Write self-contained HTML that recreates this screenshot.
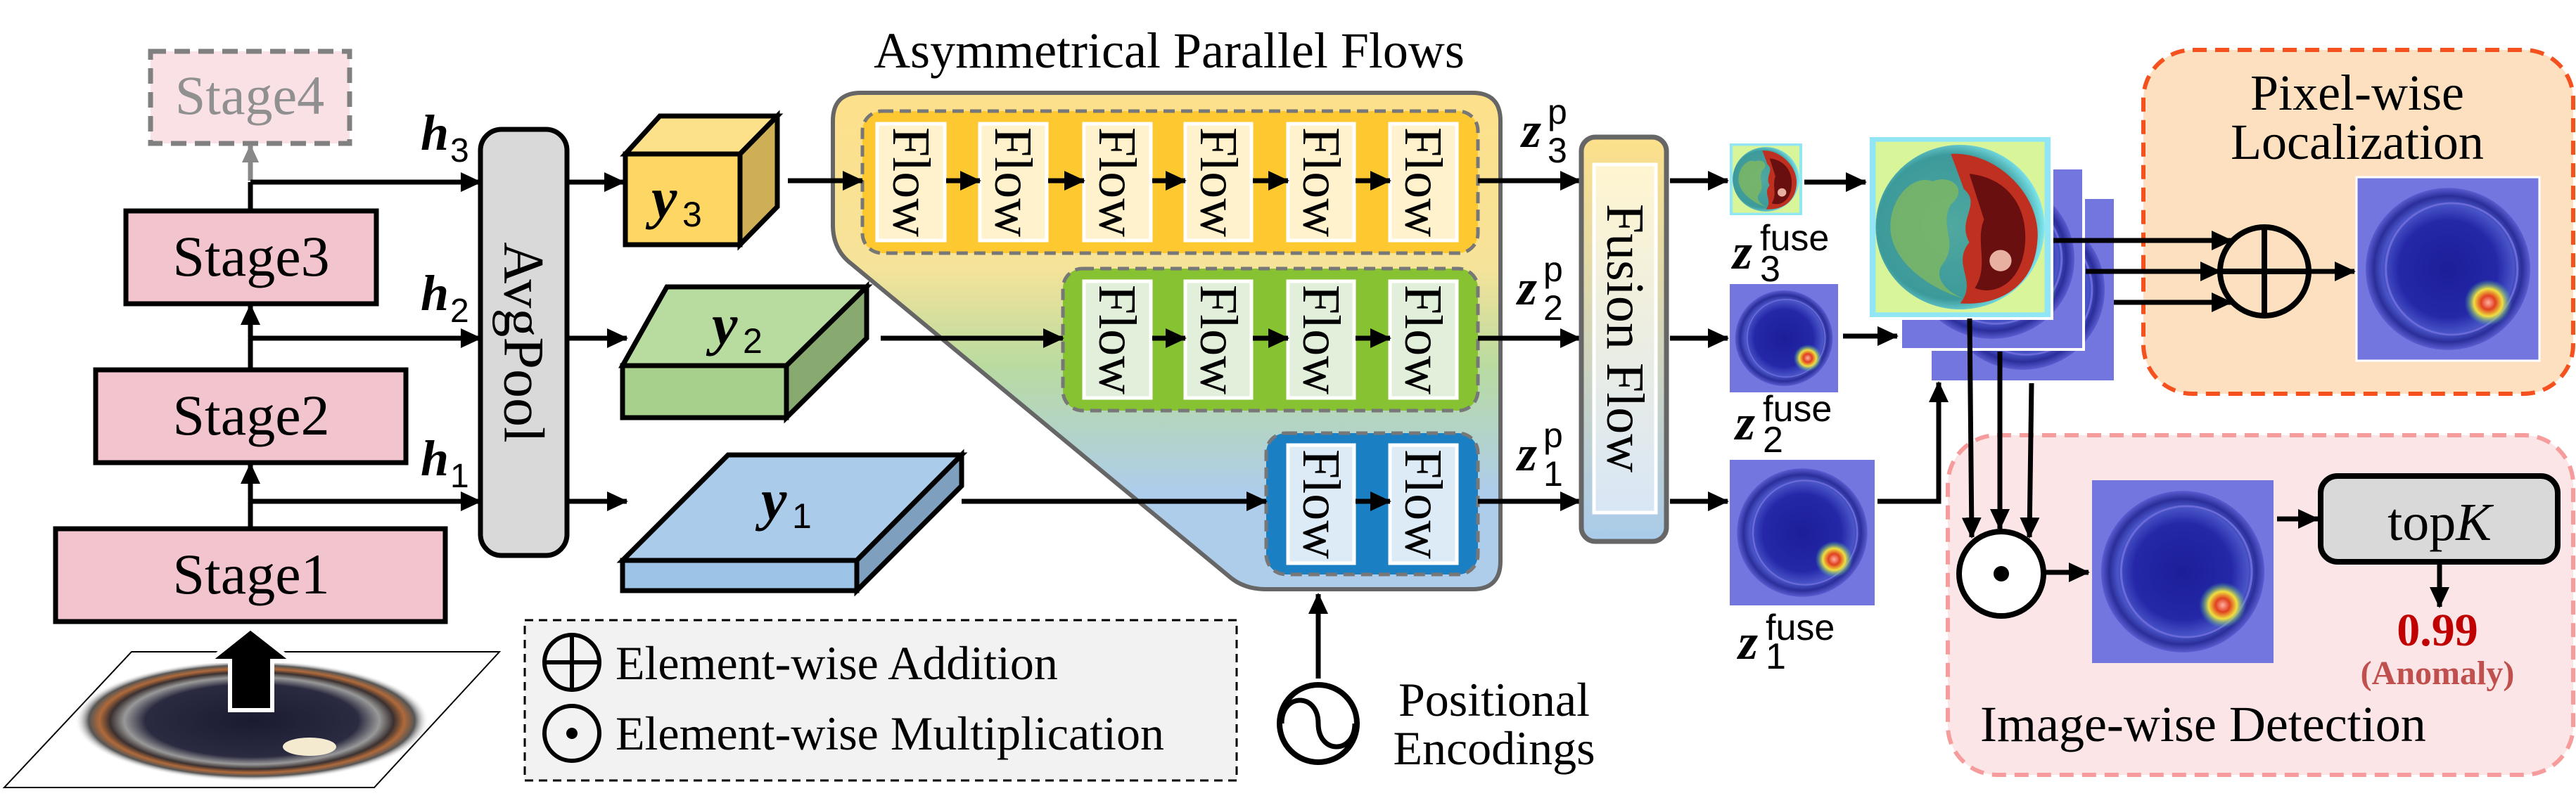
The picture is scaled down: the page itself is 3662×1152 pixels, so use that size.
<!DOCTYPE html>
<html><head><meta charset="utf-8"><style>
html,body{margin:0;padding:0;background:#fff}
svg{display:block;font-family:"Liberation Serif","Times New Roman",Times,serif}
svg text{font-family:"Liberation Serif","Times New Roman",Times,serif}
svg text.s{font-family:"Liberation Sans",Arial,sans-serif}
</style></head><body>
<svg width="3662" height="1152" viewBox="0 0 3662 1152" xmlns="http://www.w3.org/2000/svg" font-family="Liberation Serif, Times New Roman, serif">
<defs>
<marker id="a" markerUnits="userSpaceOnUse" markerWidth="30" markerHeight="28" refX="28" refY="14" orient="auto"><path d="M0,0 L30,14 L0,28 z" fill="#000"/></marker>
<marker id="g" markerUnits="userSpaceOnUse" markerWidth="26" markerHeight="24" refX="24" refY="12" orient="auto"><path d="M0,0 L26,12 L0,24 z" fill="#888"/></marker>
<linearGradient id="outer" x1="0" y1="0" x2="0" y2="1">
<stop offset="0" stop-color="#FDE08A"/><stop offset="0.35" stop-color="#F6E39A"/><stop offset="0.55" stop-color="#B9DBA0"/><stop offset="0.8" stop-color="#AECDEA"/><stop offset="1" stop-color="#AECDEA"/></linearGradient>
<linearGradient id="fus" x1="0" y1="0" x2="0" y2="1"><stop offset="0" stop-color="#FDE08A"/><stop offset="1" stop-color="#A9CBEA"/></linearGradient>
<linearGradient id="fusi" x1="0" y1="0" x2="0" y2="1"><stop offset="0" stop-color="#FFF5D0"/><stop offset="1" stop-color="#D8E6F5"/></linearGradient>
<radialGradient id="hot" cx="0.5" cy="0.5" r="0.5"><stop offset="0" stop-color="#FFB0A0"/><stop offset="0.3" stop-color="#E04020"/><stop offset="0.6" stop-color="#F0E040"/><stop offset="1" stop-color="#40C0A0" stop-opacity="0"/></radialGradient>
<radialGradient id="ring" cx="0.5" cy="0.5" r="0.5"><stop offset="0" stop-color="#1a1a30"/><stop offset="0.6" stop-color="#2a2a40"/><stop offset="0.72" stop-color="#999"/><stop offset="0.8" stop-color="#3a3030"/><stop offset="0.86" stop-color="#b06a3a"/><stop offset="0.92" stop-color="#555"/><stop offset="1" stop-color="#fff" stop-opacity="0"/></radialGradient>
<radialGradient id="bmap" cx="0.5" cy="0.5" r="0.5"><stop offset="0" stop-color="#1C1E98"/><stop offset="0.6" stop-color="#2428A8"/><stop offset="0.8" stop-color="#4A55C8"/><stop offset="0.9" stop-color="#2A2E9A"/><stop offset="1" stop-color="#5A5CD0"/></radialGradient>
<radialGradient id="hmap" cx="0.45" cy="0.5" r="0.55"><stop offset="0" stop-color="#50A8A0"/><stop offset="0.8" stop-color="#3C9A9A"/><stop offset="1" stop-color="#80E8F0"/></radialGradient>
<symbol id="blue" viewBox="0 0 100 120" preserveAspectRatio="none">
<rect width="100" height="120" fill="#7476E0"/>
<ellipse cx="50" cy="60" rx="45" ry="53" fill="url(#bmap)"/>
<ellipse cx="52" cy="60" rx="36" ry="43" fill="none" stroke="#6A6AD8" stroke-width="1.2"/>
<ellipse cx="72" cy="82" rx="13" ry="15" fill="url(#hot)"/>
</symbol>
<symbol id="hotm" viewBox="0 0 100 120" preserveAspectRatio="none">
<rect width="100" height="120" fill="#D8F59A"/>
<rect width="100" height="120" fill="none" stroke="#90E6F4" stroke-width="8"/>
<ellipse cx="50" cy="60" rx="46" ry="54" fill="url(#hmap)"/>
<path d="M35,30 C45,25 55,35 45,45 C38,60 50,70 40,85 C35,95 45,105 55,108 C30,100 12,80 12,60 C12,40 25,25 35,30 Z" fill="#7FB860" opacity="0.8"/>
<path d="M45,12 C70,10 95,40 92,70 C90,100 70,112 50,110 C60,95 45,85 55,70 C48,55 62,45 52,35 Z" fill="#C03020"/>
<path d="M55,25 C78,28 88,50 85,75 C82,98 68,105 58,100 C66,85 58,70 63,55 Z" fill="#6A0F10"/>
<ellipse cx="72" cy="82" rx="6" ry="7" fill="#E8B0A0"/>
</symbol>
</defs>

<!-- Backbone -->
<rect x="214" y="73" width="283" height="131" fill="#F9E1E6" stroke="#808080" stroke-width="7" stroke-dasharray="22,12"/>
<text x="355" y="162" font-size="78" fill="#909090" text-anchor="middle">Stage4</text>
<rect x="179" y="300" width="356" height="132" fill="#F2C4CD" stroke="#000" stroke-width="7"/>
<text x="357" y="392" font-size="82" text-anchor="middle">Stage3</text>
<rect x="136" y="526" width="441" height="132" fill="#F2C4CD" stroke="#000" stroke-width="7"/>
<text x="357" y="618" font-size="82" text-anchor="middle">Stage2</text>
<rect x="79" y="752" width="554" height="132" fill="#F2C4CD" stroke="#000" stroke-width="7"/>
<text x="357" y="844" font-size="82" text-anchor="middle">Stage1</text>

<line x1="356" y1="257" x2="356" y2="207" stroke="#888" stroke-width="7" marker-end="url(#g)"/>
<line x1="356" y1="300" x2="356" y2="259" stroke="#000" stroke-width="7"/>
<line x1="356" y1="526" x2="356" y2="434" stroke="#000" stroke-width="7" marker-end="url(#a)"/>
<line x1="356" y1="752" x2="356" y2="660" stroke="#000" stroke-width="7" marker-end="url(#a)"/>
<line x1="356" y1="259" x2="683" y2="259" stroke="#000" stroke-width="7" marker-end="url(#a)"/>
<line x1="356" y1="481" x2="683" y2="481" stroke="#000" stroke-width="7" marker-end="url(#a)"/>
<line x1="356" y1="713" x2="683" y2="713" stroke="#000" stroke-width="7" marker-end="url(#a)"/>
<text x="598" y="213" font-size="72" font-weight="bold" font-style="italic">h</text><text class="s" x="640" y="230" font-size="48">3</text>
<text x="598" y="441" font-size="72" font-weight="bold" font-style="italic">h</text><text class="s" x="640" y="458" font-size="48">2</text>
<text x="598" y="676" font-size="72" font-weight="bold" font-style="italic">h</text><text class="s" x="640" y="693" font-size="48">1</text>

<!-- input image -->
<polygon points="187,927 710,927 532,1120 6,1120" fill="#fff" stroke="#000" stroke-width="2"/>
<ellipse cx="358" cy="1025" rx="252" ry="86" fill="url(#ring)"/>
<ellipse cx="440" cy="1062" rx="38" ry="13" fill="#f3ead0"/>
<polygon points="356,893 416,940 387,940 387,1010 327,1010 327,940 297,940" fill="#000" stroke="#fff" stroke-width="6"/>

<!-- AvgPool -->
<rect x="683" y="184" width="123" height="606" rx="30" fill="#D9D9D9" stroke="#000" stroke-width="7"/>
<text x="745" y="487" font-size="82" text-anchor="middle" dominant-baseline="central" transform="rotate(90 745 487)">AvgPool</text>
<line x1="809" y1="259" x2="887" y2="259" stroke="#000" stroke-width="7" marker-end="url(#a)"/>
<line x1="809" y1="481" x2="891" y2="481" stroke="#000" stroke-width="7" marker-end="url(#a)"/>
<line x1="809" y1="713" x2="891" y2="713" stroke="#000" stroke-width="7" marker-end="url(#a)"/>

<g stroke="#000" stroke-width="7">
<polygon points="889,219 938,165 1105,165 1052,219" fill="#FDE08A"/>
<polygon points="1052,219 1105,165 1105,294 1052,348" fill="#CFAF55"/>
<rect x="889" y="219" width="163" height="129" fill="#FDD663"/>
<polygon points="885,520 948,408 1232,408 1118,520" fill="#B8DBA0"/>
<polygon points="1118,520 1232,408 1232,481 1118,594" fill="#88AA70"/>
<rect x="885" y="520" width="233" height="74" fill="#A8D08D"/>
<polygon points="885,797 1035,647 1367,647 1218,797" fill="#ABCBEA"/>
<polygon points="1218,797 1367,647 1367,691 1218,840" fill="#7F9FBF"/>
<rect x="885" y="797" width="333" height="43" fill="#9DC3E6"/>
</g>
<text x="926" y="309" font-size="82" font-weight="bold" font-style="italic">y</text><text class="s" x="970" y="322" font-size="50">3</text>
<text x="1012" y="489" font-size="82" font-weight="bold" font-style="italic">y</text><text class="s" x="1056" y="502" font-size="50">2</text>
<text x="1082" y="738" font-size="82" font-weight="bold" font-style="italic">y</text><text class="s" x="1126" y="751" font-size="50">1</text>

<!-- Asymmetrical Parallel Flows -->
<text x="1662" y="96" font-size="72" text-anchor="middle">Asymmetrical Parallel Flows</text>
<path d="M1224,132 L2093,132 Q2133,132 2133,172 L2133,798 Q2133,838 2093,838 L1800,838 Q1770,838 1750,822 L1210,375 Q1184,355 1184,320 L1184,172 Q1184,132 1224,132 Z" fill="url(#outer)" stroke="#666" stroke-width="6"/>
<rect x="1226" y="158" width="875" height="202" rx="28" fill="#FDC830" stroke="#777" stroke-width="5" stroke-dasharray="16,9"/>
<rect x="1511" y="382" width="590" height="202" rx="28" fill="#86C232" stroke="#777" stroke-width="5" stroke-dasharray="16,9"/>
<rect x="1800" y="616" width="301" height="201" rx="28" fill="#1B7FC4" stroke="#777" stroke-width="5" stroke-dasharray="16,9"/>

<g stroke="#fff" stroke-width="5">
<rect x="1247" y="176" width="96" height="166" fill="#FFF2CC"/>
<rect x="1393" y="176" width="95" height="166" fill="#FFF2CC"/>
<rect x="1541" y="176" width="95" height="166" fill="#FFF2CC"/>
<rect x="1685" y="176" width="94" height="166" fill="#FFF2CC"/>
<rect x="1831" y="176" width="94" height="166" fill="#FFF2CC"/>
<rect x="1976" y="176" width="95" height="166" fill="#FFF2CC"/>
<rect x="1541" y="400" width="95" height="166" fill="#E2EFDA"/>
<rect x="1685" y="400" width="94" height="166" fill="#E2EFDA"/>
<rect x="1831" y="400" width="94" height="166" fill="#E2EFDA"/>
<rect x="1976" y="400" width="95" height="166" fill="#E2EFDA"/>
<rect x="1831" y="633" width="94" height="168" fill="#DDEBF7"/>
<rect x="1976" y="633" width="95" height="168" fill="#DDEBF7"/>
</g>
<g font-size="76" text-anchor="middle" dominant-baseline="central">
<text x="1295" y="259" transform="rotate(90 1295 259)">Flow</text>
<text x="1440" y="259" transform="rotate(90 1440 259)">Flow</text>
<text x="1588" y="259" transform="rotate(90 1588 259)">Flow</text>
<text x="1732" y="259" transform="rotate(90 1732 259)">Flow</text>
<text x="1878" y="259" transform="rotate(90 1878 259)">Flow</text>
<text x="2023" y="259" transform="rotate(90 2023 259)">Flow</text>
<text x="1588" y="483" transform="rotate(90 1588 483)">Flow</text>
<text x="1732" y="483" transform="rotate(90 1732 483)">Flow</text>
<text x="1878" y="483" transform="rotate(90 1878 483)">Flow</text>
<text x="2023" y="483" transform="rotate(90 2023 483)">Flow</text>
<text x="1878" y="717" transform="rotate(90 1878 717)">Flow</text>
<text x="2023" y="717" transform="rotate(90 2023 717)">Flow</text>
</g>
<g stroke="#000" stroke-width="7" marker-end="url(#a)">
<line x1="1120" y1="257" x2="1226" y2="257"/>
<line x1="1345" y1="257" x2="1393" y2="257"/>
<line x1="1490" y1="257" x2="1541" y2="257"/>
<line x1="1638" y1="257" x2="1685" y2="257"/>
<line x1="1781" y1="257" x2="1831" y2="257"/>
<line x1="1927" y1="257" x2="1976" y2="257"/>
<line x1="1252" y1="481" x2="1511" y2="481"/>
<line x1="1638" y1="481" x2="1685" y2="481"/>
<line x1="1781" y1="481" x2="1831" y2="481"/>
<line x1="1927" y1="481" x2="1976" y2="481"/>
<line x1="1367" y1="713" x2="1800" y2="713"/>
<line x1="1927" y1="713" x2="1976" y2="713"/>
<line x1="2101" y1="257" x2="2246" y2="257"/>
<line x1="2101" y1="481" x2="2246" y2="481"/>
<line x1="2101" y1="713" x2="2246" y2="713"/>
<line x1="1874" y1="965" x2="1874" y2="845"/>
</g>
<text x="2163" y="209" font-size="72" font-weight="bold" font-style="italic">z</text><text class="s" x="2200" y="176" font-size="50">p</text><text class="s" x="2200" y="231" font-size="50">3</text>
<text x="2157" y="433" font-size="72" font-weight="bold" font-style="italic">z</text><text class="s" x="2194" y="400" font-size="50">p</text><text class="s" x="2194" y="455" font-size="50">2</text>
<text x="2157" y="669" font-size="72" font-weight="bold" font-style="italic">z</text><text class="s" x="2194" y="636" font-size="50">p</text><text class="s" x="2194" y="691" font-size="50">1</text>

<!-- Fusion Flow -->
<rect x="2248" y="195" width="121" height="575" rx="20" fill="url(#fus)" stroke="#666" stroke-width="7"/>
<rect x="2266" y="234" width="88" height="495" fill="url(#fusi)" stroke="#fff" stroke-width="5"/>
<text x="2310" y="481" font-size="76" text-anchor="middle" dominant-baseline="central" transform="rotate(90 2310 481)">Fusion Flow</text>

<!-- Positional encodings -->
<circle cx="1874" cy="1029" r="55" fill="#fff" stroke="#000" stroke-width="8"/>
<path d="M1822,1029 C1822,985 1874,985 1874,1029 C1874,1073 1926,1073 1926,1029" fill="none" stroke="#000" stroke-width="7"/>
<text x="2124" y="1018" font-size="68" text-anchor="middle">Positional</text>
<text x="2124" y="1087" font-size="68" text-anchor="middle">Encodings</text>

<!-- Legend -->
<rect x="746" y="882" width="1012" height="228" fill="#F2F2F2" stroke="#000" stroke-width="3" stroke-dasharray="12,8"/>
<circle cx="813" cy="942" r="39" fill="none" stroke="#000" stroke-width="6"/>
<line x1="774" y1="942" x2="852" y2="942" stroke="#000" stroke-width="6"/>
<line x1="813" y1="903" x2="813" y2="981" stroke="#000" stroke-width="6"/>
<text x="875" y="966" font-size="68">Element-wise Addition</text>
<circle cx="813" cy="1043" r="39" fill="none" stroke="#000" stroke-width="6"/>
<circle cx="813" cy="1043" r="8" fill="#000"/>
<text x="875" y="1066" font-size="68">Element-wise Multiplication</text>

<!-- right side boxes -->
<rect x="3047" y="71" width="611" height="489" rx="70" fill="#FDE0C0" stroke="#F4511E" stroke-width="6" stroke-dasharray="20,12"/>
<text x="3351" y="156" font-size="72" text-anchor="middle">Pixel-wise</text>
<text x="3351" y="226" font-size="72" text-anchor="middle">Localization</text>
<rect x="2769" y="619" width="889" height="483" rx="70" fill="#FBE5E6" stroke="#F79C9C" stroke-width="6" stroke-dasharray="20,12"/>
<text x="2815" y="1054" font-size="72">Image-wise Detection</text>

<!-- fuse maps -->
<g stroke="#000" stroke-width="7" marker-end="url(#a)">
<line x1="2374" y1="257" x2="2456" y2="257"/>
<line x1="2374" y1="481" x2="2456" y2="481"/>
<line x1="2374" y1="713" x2="2456" y2="713"/>
<line x1="2565" y1="259" x2="2652" y2="259"/>
<line x1="2620" y1="478" x2="2697" y2="478"/>
<polyline points="2669,713 2756,713 2756,544" fill="none"/>
</g>
<use href="#hotm" x="2459" y="204" width="103" height="102"/>
<use href="#blue" x="2459" y="404" width="154" height="154"/>
<use href="#blue" x="2459" y="654" width="206" height="207"/>
<text x="2463" y="382" font-size="72" font-weight="bold" font-style="italic">z</text><text class="s" x="2502" y="356" font-size="52">fuse</text><text class="s" x="2502" y="400" font-size="52">3</text>
<text x="2467" y="625" font-size="72" font-weight="bold" font-style="italic">z</text><text class="s" x="2506" y="599" font-size="52">fuse</text><text class="s" x="2506" y="643" font-size="52">2</text>
<text x="2471" y="937" font-size="72" font-weight="bold" font-style="italic">z</text><text class="s" x="2510" y="910" font-size="52">fuse</text><text class="s" x="2510" y="951" font-size="52">1</text>

<use href="#blue" x="2746" y="283" width="259" height="258"/>
<use href="#blue" x="2702" y="239" width="260" height="258"/>
<rect x="2702" y="239" width="260" height="258" fill="none" stroke="#fff" stroke-width="4"/>
<use href="#hotm" x="2656" y="193" width="261" height="260"/>
<rect x="2656" y="193" width="261" height="260" fill="none" stroke="#fff" stroke-width="4"/>

<g stroke="#000" stroke-width="7" marker-end="url(#a)">
<line x1="2919" y1="342" x2="3172" y2="342"/>
<line x1="2965" y1="386" x2="3156" y2="386"/>
<line x1="3005" y1="430" x2="3172" y2="430"/>
<line x1="3282" y1="386" x2="3347" y2="386"/>
<line x1="2800" y1="453" x2="2803" y2="764"/>
<line x1="2843" y1="500" x2="2843" y2="752"/>
<line x1="2888" y1="545" x2="2885" y2="764"/>
<line x1="2908" y1="814" x2="2969" y2="814"/>
<line x1="3237" y1="738" x2="3295" y2="738"/>
<line x1="3468" y1="801" x2="3468" y2="863"/>
</g>
<circle cx="3219" cy="386" r="63" fill="none" stroke="#000" stroke-width="8"/>
<line x1="3156" y1="386" x2="3282" y2="386" stroke="#000" stroke-width="8"/>
<line x1="3219" y1="323" x2="3219" y2="449" stroke="#000" stroke-width="8"/>
<use href="#blue" x="3350" y="252" width="260" height="261"/>
<rect x="3350" y="252" width="260" height="261" fill="none" stroke="#fff" stroke-width="3"/>

<circle cx="2845" cy="816" r="60" fill="#fff" stroke="#000" stroke-width="8"/>
<circle cx="2845" cy="816" r="11" fill="#000"/>
<use href="#blue" x="2974" y="683" width="258" height="260"/>
<rect x="3299" y="677" width="337" height="122" rx="24" fill="#D9D9D9" stroke="#000" stroke-width="8"/>
<text x="3468" y="768" font-size="76" text-anchor="middle">top<tspan font-style="italic">K</tspan></text>
<text x="3465" y="918" font-size="66" font-weight="bold" fill="#C00000" text-anchor="middle">0.99</text>
<text x="3465" y="973" font-size="48" font-weight="bold" fill="#C0504D" text-anchor="middle">(Anomaly)</text>
</svg>
</body></html>
